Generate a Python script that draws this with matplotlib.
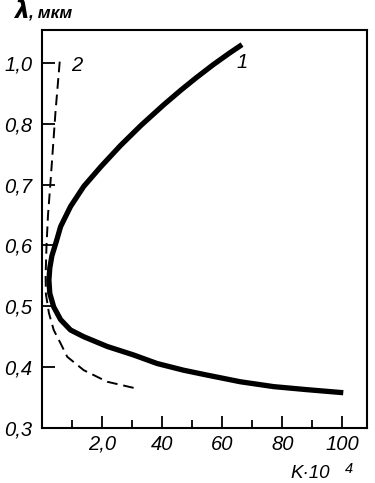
import matplotlib
matplotlib.use("Agg")
import matplotlib.pyplot as plt
from matplotlib.ticker import FixedLocator

FAM = ['Liberation Sans', 'DejaVu Sans']
plt.rcParams['font.family'] = FAM

# Curve 1 (solid, thick)
k1 = [66.6, 62.4, 57.0, 51.2, 46.2, 40.5, 32.9, 26.1, 19.7, 13.9, 9.5, 6.2, 4.8, 3.3, 2.6,
      2.3, 2.6, 3.9, 6.2, 9.5, 13.9, 21.7, 30.5, 38.3, 47.1, 54.9, 66.0, 77.1, 88.2, 100.3]
lam1 = [0.930, 0.916, 0.897, 0.875, 0.855, 0.831, 0.797, 0.764, 0.730, 0.697, 0.664, 0.631, 0.607, 0.583, 0.563,
        0.543, 0.521, 0.499, 0.478, 0.461, 0.450, 0.434, 0.420, 0.406, 0.395, 0.387, 0.376, 0.368, 0.363, 0.358]

# Curve 2 (dashed)
k2 = [5.9, 4.5, 2.8, 2.0, 1.5, 1.2, 1.3, 2.3, 3.9, 6.2, 8.4, 13.9, 21.7, 32.2]
lam2 = [0.902, 0.820, 0.702, 0.650, 0.600, 0.550, 0.520, 0.489, 0.461, 0.439, 0.417, 0.395, 0.376, 0.364]

ytick_vals = [0.3, 0.4, 0.5, 0.6, 0.7, 0.8, 0.9]
ytick_labels = ['0,3', '0,4', '0,5', '0,6', '0,7', '0,8', '1,0']
xtick_vals = [20, 40, 60, 80, 100]
xtick_labels = ['2,0', '40', '60', '80', '100']
xminor_vals = [10, 30, 50, 70, 90]

fig = plt.figure(figsize=(3.75, 4.83), dpi=100)
ax = fig.add_axes([42/375, 55/483, (367-42)/375, (428-30)/483])

ax.plot(k1, lam1, color='black', lw=3.8, solid_capstyle='butt', solid_joinstyle='round')
ax.plot(k2, lam2, color='black', lw=1.4, dashes=(5.5, 3))

ax.set_xlim(0, 108.2)
ax.set_ylim(0.3, 0.954)

tfont = dict(family=FAM, style='italic', size=14.5)
ax.set_yticks(ytick_vals)
ax.set_yticklabels(ytick_labels, fontdict=tfont)
ax.set_xticks(xtick_vals)
ax.set_xticklabels(xtick_labels, fontdict=tfont)
ax.xaxis.set_minor_locator(FixedLocator(xminor_vals))

ax.tick_params(axis='both', which='major', direction='in', width=1.3, length=9, color='black')
ax.tick_params(axis='x', which='minor', direction='in', width=1.3, length=5.5)
ax.tick_params(axis='y', which='major', pad=7)
ax.tick_params(axis='x', which='major', pad=5)
for s in ax.spines.values():
    s.set_linewidth(1.5)

# curve labels
ax.text(66.7, 0.900, '1', ha='center', va='center', **tfont)
ax.text(11.7, 0.895, '2', ha='center', va='center', **tfont)

# axis labels
fig.text(14/375, 1 - 18/483, 'λ', ha='left', va='baseline', fontsize=17, fontweight='bold', style='italic',
         family=['DejaVu Sans'])
fig.text(28/375, 1 - 18/483, ', мкм', ha='left', va='baseline', fontsize=12.5, fontweight='bold', style='italic',
         family=FAM)
fig.text(290/375, 1 - 478/483, 'K·10', ha='left', va='baseline', family=FAM, style='italic', size=13.5)
fig.text(345/375, 1 - 473/483, '4', ha='left', va='baseline', family=FAM, style='italic', size=10.5)

fig.savefig('out.png', dpi=100)
